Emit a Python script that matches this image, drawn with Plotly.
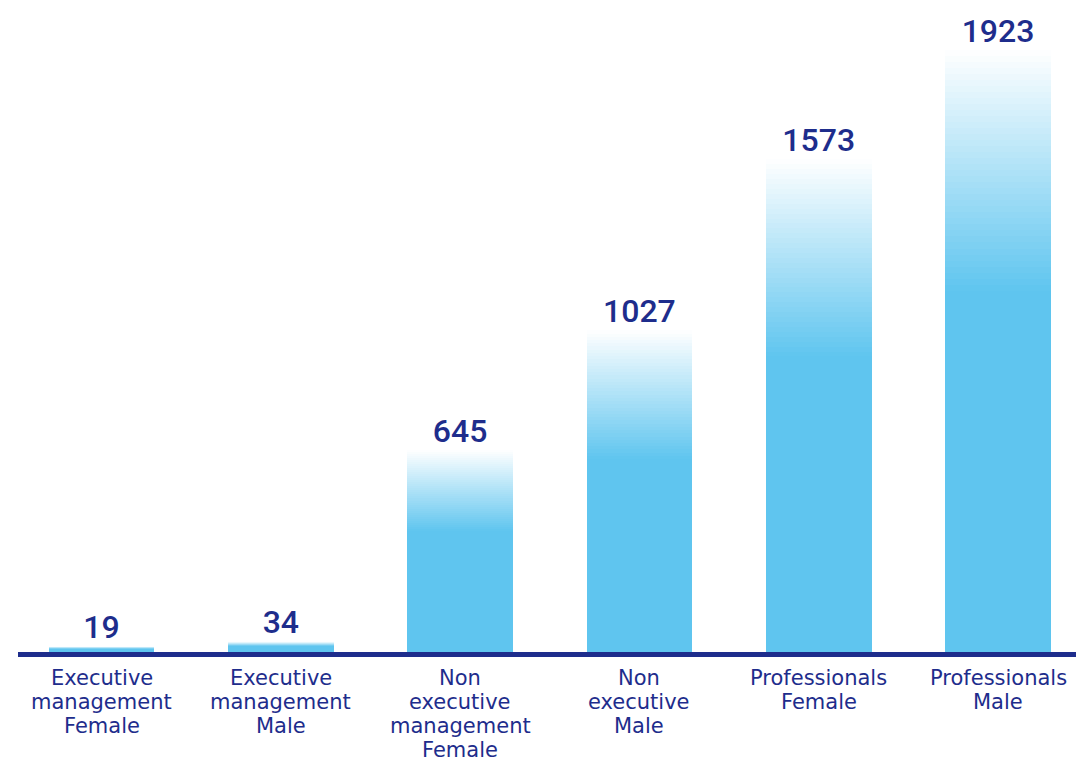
import plotly.graph_objects as go

# Headcount by job level and gender
categories = [
    "Executive management Female",
    "Executive management Male",
    "Non executive management Female",
    "Non executive Male",
    "Professionals Female",
    "Professionals Male",
]
tick_labels = [
    ["Executive", "management", "Female"],
    ["Executive", "management", "Male"],
    ["Non", "executive", "management", "Female"],
    ["Non", "executive", "Male"],
    ["Professionals", "Female"],
    ["Professionals", "Male"],
]
values = [19, 34, 645, 1027, 1573, 1923]

NAVY = "#1E2D8C"
BAR_RGB = (95, 197, 239)
LABEL_FONT = "'DejaVu Sans', sans-serif"
VALUE_FONT = "Roboto, 'DejaVu Sans', sans-serif"

SOLID_SHARE = 0.6   # lower part of each bar is solid, the rest fades to white
STEPS = 40          # number of slices used to build the fade
BAR_WIDTH = 0.59
LINE_STEP = 24      # px between category label lines

fig = go.Figure()

# solid lower part of each bar
fig.add_trace(go.Bar(
    x=categories,
    y=[v * SOLID_SHARE for v in values],
    marker=dict(color="rgb(%d,%d,%d)" % BAR_RGB, line=dict(width=0)),
    width=BAR_WIDTH,
    hoverinfo="skip",
))

# stacked slices fading from the bar colour to white
for i in range(STEPS):
    t = (i + 0.5) / STEPS
    r, g, b = (round(c + (255 - c) * t) for c in BAR_RGB)
    fig.add_trace(go.Bar(
        x=categories,
        y=[v * (1 - SOLID_SHARE) / STEPS for v in values],
        marker=dict(color=f"rgb({r},{g},{b})", line=dict(width=0)),
        width=BAR_WIDTH,
        hoverinfo="skip",
    ))

# value labels above the bars
fig.add_trace(go.Scatter(
    x=categories,
    y=values,
    mode="text",
    text=[str(v) for v in values],
    textposition="top center",
    textfont=dict(family=VALUE_FONT, size=32, color=NAVY, weight=500),
    cliponaxis=False,
    hoverinfo="skip",
))

# category labels under the axis, one line at a time for tight leading
annotations = []
for cat, lines in zip(categories, tick_labels):
    for k, line in enumerate(lines):
        annotations.append(dict(
            x=cat, xref="x",
            y=0, yref="paper",
            yanchor="top",
            yshift=-12 - k * LINE_STEP,
            text=line,
            showarrow=False,
            font=dict(family=LABEL_FONT, size=21, color=NAVY),
        ))

fig.update_layout(
    width=1076,
    height=764,
    barmode="stack",
    showlegend=False,
    plot_bgcolor="white",
    paper_bgcolor="white",
    margin=dict(l=18, r=0, t=10, b=112, autoexpand=False),
    annotations=annotations,
    xaxis=dict(
        range=[-0.466, 5.435],
        showticklabels=False,
        showline=True,
        linewidth=5,
        linecolor=NAVY,
        showgrid=False,
        ticks="",
        automargin=False,
        fixedrange=True,
    ),
    yaxis=dict(
        range=[0, 2050],
        visible=False,
        showgrid=False,
        automargin=False,
        fixedrange=True,
    ),
)

fig.write_html("out.html")
